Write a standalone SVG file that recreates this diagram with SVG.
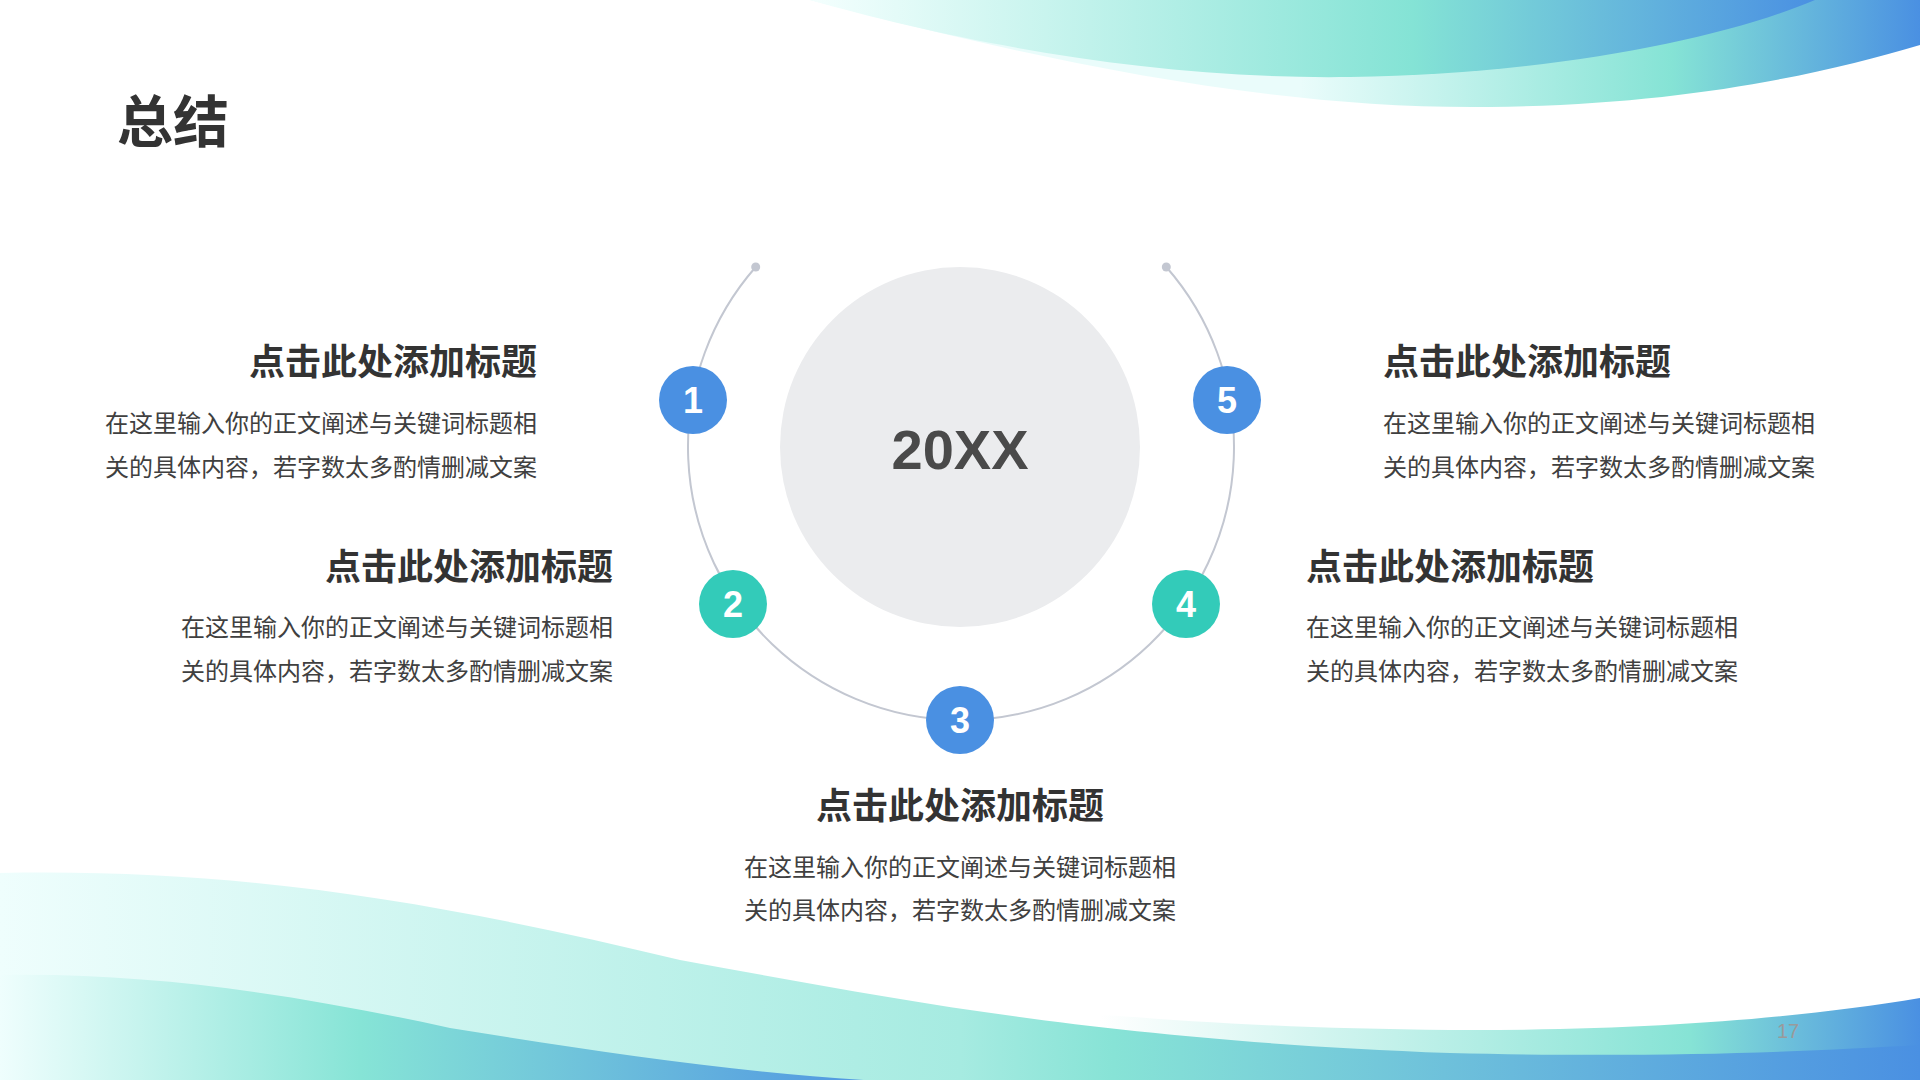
<svg xmlns="http://www.w3.org/2000/svg" width="1920" height="1080" viewBox="0 0 1920 1080">
  <defs>
    <linearGradient id="gA" gradientUnits="userSpaceOnUse" x1="810" y1="0" x2="1815" y2="0">
      <stop offset="0" stop-color="#f4fffe"/>
      <stop offset="0.6" stop-color="#84e3d5"/>
      <stop offset="1" stop-color="#4a90e2"/>
    </linearGradient>
    <linearGradient id="gB" gradientUnits="userSpaceOnUse" x1="1300" y1="0" x2="1920" y2="0">
      <stop offset="0" stop-color="#eafcfb"/>
      <stop offset="0.6" stop-color="#85e3d5"/>
      <stop offset="1" stop-color="#4a90e2"/>
    </linearGradient>
    <linearGradient id="gC" gradientUnits="userSpaceOnUse" x1="0" y1="0" x2="1920" y2="0">
      <stop offset="0" stop-color="#effefd"/>
      <stop offset="0.5" stop-color="#a6ebe1"/>
      <stop offset="0.58" stop-color="#87e3d6"/>
      <stop offset="1" stop-color="#4a90e2"/>
    </linearGradient>
    <linearGradient id="gD" gradientUnits="userSpaceOnUse" x1="0" y1="0" x2="900" y2="0">
      <stop offset="0" stop-color="#effefd"/>
      <stop offset="0.4" stop-color="#86e4d6"/>
      <stop offset="1" stop-color="#4d92e2"/>
    </linearGradient>
    <linearGradient id="gE" gradientUnits="userSpaceOnUse" x1="1100" y1="0" x2="1920" y2="0">
      <stop offset="0" stop-color="#ffffff"/>
      <stop offset="0.72" stop-color="#86e3d5"/>
      <stop offset="1" stop-color="#4a90e2"/>
    </linearGradient>
    <style>
      .title { font-family: "Noto Sans CJK SC", "Noto Sans", sans-serif; font-weight: 700; font-size: 56px; fill: #333333; }
      .head { font-family: "Noto Sans CJK SC", "Noto Sans", sans-serif; font-weight: 700; font-size: 36px; fill: #333333; }
      .body { font-family: "Noto Sans CJK SC", "Noto Sans", sans-serif; font-weight: 400; font-size: 24px; fill: #404040; }
      .num { font-family: "Liberation Sans", Arial, sans-serif; font-weight: 700; font-size: 36px; fill: #ffffff; text-anchor: middle; }
      .blue { fill: #4a90e2; }
      .teal { fill: #33cbb9; }
      .arc { fill: none; stroke: #c3c7d1; stroke-width: 2; }
      .dot { fill: #c3c7d1; }
    </style>
  </defs>

  <rect x="0" y="0" width="1920" height="1080" fill="#ffffff"/>

  <g id="waves-top">
    <path d="M 810 0 C 1000 50, 1250 110, 1490 107 C 1680 105, 1820 75, 1920 45 L 1920 0 Z" fill="url(#gB)"/>
    <path d="M 810 0 C 950 40, 1150 80, 1350 77 C 1550 74, 1720 40, 1815 0 Z" fill="url(#gA)"/>
  </g>
  <g id="waves-bottom">
    <path d="M 900 995 C 1050 1010, 1200 1028, 1450 1030 C 1650 1031, 1800 1018, 1920 998 L 1920 1080 L 900 1080 Z" fill="url(#gE)"/>
    <path d="M 0 873 C 250 868, 450 905, 680 960 C 900 1000, 1100 1040, 1450 1053 C 1650 1058, 1800 1052, 1920 1045 L 1920 1080 L 0 1080 Z" fill="url(#gC)"/>
    <path d="M 0 975 C 150 972, 300 995, 450 1028 C 600 1052, 750 1075, 900 1082 L 0 1082 Z" fill="url(#gD)"/>
  </g>

  <text class="title" x="117" y="142">总结</text>

  <g id="connectors">
    <path class="arc" d="M 755.7 267 A 273 273 0 1 0 1166.3 267"/>
    <circle class="dot" cx="755.7" cy="267" r="4.5"/>
    <circle class="dot" cx="1166.3" cy="267" r="4.5"/>
  </g>

  <g id="center">
    <circle cx="960" cy="447" r="180" fill="#ebecee"/>
    <text x="960" y="469" text-anchor="middle" font-family="'Liberation Sans', Arial, sans-serif" font-weight="700" font-size="56" fill="#4a4a4a">20XX</text>
  </g>

  <g id="node1">
    <circle class="blue" cx="693" cy="400" r="34"/>
    <text class="num" x="693" y="413">1</text>
  </g>
  <g id="node2">
    <circle class="teal" cx="733" cy="604" r="34"/>
    <text class="num" x="733" y="617">2</text>
  </g>
  <g id="node3">
    <circle class="blue" cx="960" cy="720" r="34"/>
    <text class="num" x="960" y="733">3</text>
  </g>
  <g id="node4">
    <circle class="teal" cx="1186" cy="604" r="34"/>
    <text class="num" x="1186" y="617">4</text>
  </g>
  <g id="node5">
    <circle class="blue" cx="1227" cy="400" r="34"/>
    <text class="num" x="1227" y="413">5</text>
  </g>

  <g id="text1" text-anchor="end">
    <text class="head" x="537" y="375">点击此处添加标题</text>
    <text class="body" x="537" y="432">在这里输入你的正文阐述与关键词标题相</text>
    <text class="body" x="537" y="476">关的具体内容，若字数太多酌情删减文案</text>
  </g>
  <g id="text2" text-anchor="end">
    <text class="head" x="613" y="580">点击此处添加标题</text>
    <text class="body" x="613" y="636">在这里输入你的正文阐述与关键词标题相</text>
    <text class="body" x="613" y="680">关的具体内容，若字数太多酌情删减文案</text>
  </g>
  <g id="text3" text-anchor="middle">
    <text class="head" x="960" y="819">点击此处添加标题</text>
    <text class="body" x="960" y="876">在这里输入你的正文阐述与关键词标题相</text>
    <text class="body" x="960" y="919">关的具体内容，若字数太多酌情删减文案</text>
  </g>
  <g id="text4" text-anchor="start">
    <text class="head" x="1306" y="580">点击此处添加标题</text>
    <text class="body" x="1306" y="636">在这里输入你的正文阐述与关键词标题相</text>
    <text class="body" x="1306" y="680">关的具体内容，若字数太多酌情删减文案</text>
  </g>
  <g id="text5" text-anchor="start">
    <text class="head" x="1383" y="375">点击此处添加标题</text>
    <text class="body" x="1383" y="432">在这里输入你的正文阐述与关键词标题相</text>
    <text class="body" x="1383" y="476">关的具体内容，若字数太多酌情删减文案</text>
  </g>

  <text x="1788" y="1038" text-anchor="middle" font-family="'Liberation Sans', Arial, sans-serif" font-size="20" fill="#9a9a9a">17</text>
</svg>
